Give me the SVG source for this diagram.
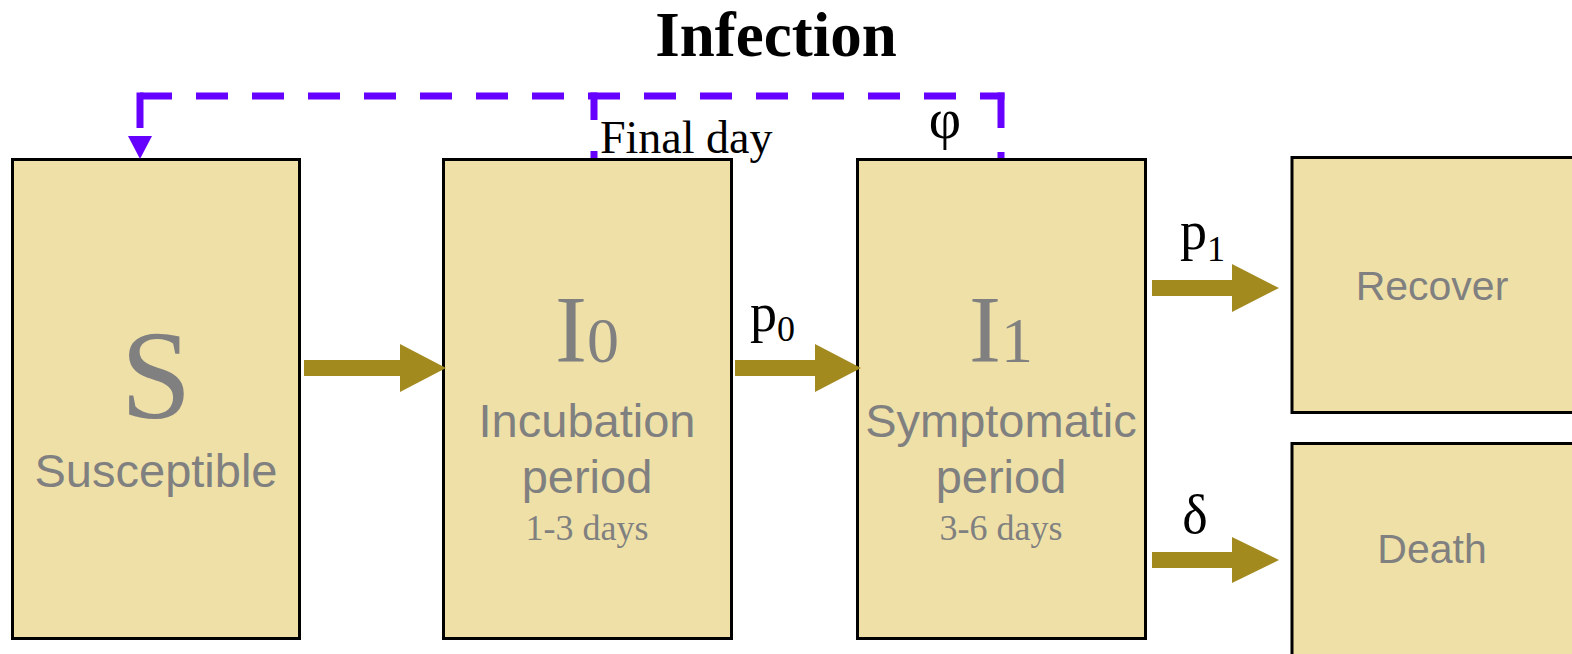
<svg xmlns="http://www.w3.org/2000/svg" width="1572" height="654" viewBox="0 0 1572 654">
<style>
.box{fill:#EFE0A8;stroke:#000;stroke-width:3}
.big{font-family:"Liberation Serif",serif;fill:#808080}
.lab{font-family:"Liberation Sans",sans-serif;fill:#808080;font-size:47px;text-anchor:middle}
.lab2{font-family:"Liberation Sans",sans-serif;fill:#808080;font-size:41px;text-anchor:middle}
.days{font-family:"Liberation Serif",serif;fill:#808080;font-size:36px;text-anchor:middle}
.math{font-family:"Liberation Serif",serif;fill:#000}
.arr{fill:#A38A1F}
.dash{fill:none;stroke:#6600FF;stroke-width:7}
</style>
<rect width="1572" height="654" fill="#fff"/>
<text x="776" y="56" class="math" font-size="63" font-weight="bold" text-anchor="middle">Infection</text>
<g id="S">
<rect class="box" x="12.5" y="159.5" width="287" height="479"/>
<text x="156" y="418" class="big" font-size="128" text-anchor="middle">S</text>
<text x="156" y="487" class="lab">Susceptible</text>
</g>
<g id="I0">
<rect class="box" x="443.5" y="159.5" width="288" height="479"/>
<text x="587" y="362" class="big" text-anchor="middle"><tspan font-size="96">I</tspan><tspan font-size="64">0</tspan></text>
<text x="587" y="437" class="lab">Incubation</text>
<text x="587" y="493" class="lab">period</text>
<text x="587" y="540" class="days">1-3 days</text>
</g>
<g id="I1">
<rect class="box" x="857.5" y="159.5" width="288" height="479"/>
<text x="1001" y="362" class="big" text-anchor="middle"><tspan font-size="96">I</tspan><tspan font-size="64">1</tspan></text>
<text x="1001" y="437" class="lab">Symptomatic</text>
<text x="1001" y="493" class="lab">period</text>
<text x="1001" y="540" class="days">3-6 days</text>
</g>
<g id="Recover">
<rect class="box" x="1292" y="157.5" width="290" height="255"/>
<text x="1432" y="300" class="lab2">Recover</text>
</g>
<g id="Death">
<rect class="box" x="1292" y="443.5" width="290" height="230"/>
<text x="1432" y="563" class="lab2">Death</text>
</g>
<g id="connectors">
<polygon class="arr" points="304,360 400,360 400,344 446,368 400,392 400,376 304,376"/>
<polygon class="arr" points="735,360 815,360 815,344 861,368 815,392 815,376 735,376"/>
<polygon class="arr" points="1152,280 1232,280 1232,264 1279,288 1232,312 1232,296 1152,296"/>
<polygon class="arr" points="1152,552 1232,552 1232,537 1279,560 1232,583 1232,568 1152,568"/>
<path class="dash" d="M140,92.5 V128"/>
<path class="dash" d="M140,96 H1004.5" stroke-dasharray="32 24"/>
<path class="dash" d="M1001,92.5 V158" stroke-dasharray="35.5 24"/>
<path class="dash" d="M594,92.5 V158" stroke-dasharray="27.5 31"/>
<polygon points="128,136 152,136 140,159" fill="#6600FF"/>
<text x="600" y="153" class="math" font-size="46">Final day</text>
<text x="945" y="138" class="math" font-size="56" text-anchor="middle">φ</text>
<text x="750" y="331" class="math" font-size="54">p<tspan font-size="36" dy="10">0</tspan></text>
<text x="1180" y="249" class="math" font-size="54">p<tspan font-size="36" dy="12">1</tspan></text>
<text x="1195" y="533" class="math" font-size="54" text-anchor="middle">δ</text>
</g>
</svg>
